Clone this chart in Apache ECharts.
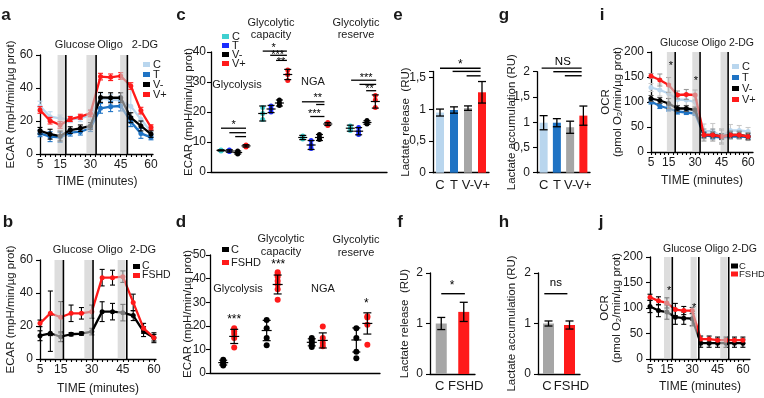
<!DOCTYPE html>
<html>
<head>
<meta charset="utf-8">
<title>ECAR / OCR / lactate panels</title>
<script src="https://cdn.jsdelivr.net/npm/echarts@6/dist/echarts.min.js"></script>
</head>
<body style="margin:0;background:#fff">
<div id="main" style="width:764px;height:398px;"></div>
<script type="text/javascript">

// ---------- data ----------
var times = [5, 10, 15, 20, 25, 30, 35, 40, 45, 50, 55, 60];
var timeLabels = [5, 15, 30, 45, 60];

// a: ECAR, C / T / V- / V+
var ecarA_C  = [29, 22.6, 21.6, 21, 21.6, 23.6, 33.5, 33, 32.5, 29, 21, 13.5];
var ecarA_T  = [12.5, 10.5, 10.1, 12.9, 13.5, 15.6, 27.7, 28.7, 29.1, 19.6, 12.5, 10.1];
var ecarA_Vm = [14.1, 12, 10.9, 14.5, 15.6, 17, 34.3, 34.1, 34.1, 22, 17, 12.1];
var ecarA_Vp = [26.7, 20.2, 17.6, 21.2, 22.6, 24.6, 46.9, 46.5, 47.3, 41.2, 26.3, 16.2];
var errA_C  = [3, 3, 2, 2, 2, 3, 3, 3, 3, 12, 4, 2];
var errA_T  = [2, 3, 3, 2, 2, 2, 3, 3, 3, 3, 3, 1.5];
var errA_Vm = [2, 3, 3, 2, 2, 2, 3, 3, 3, 3, 3, 2];
var errA_Vp = [2, 2, 2, 1.5, 1.5, 2, 2, 2, 2, 2, 2, 1.5];

// b: ECAR, C / FSHD
var ecarB_C = [14.1, 15.6, 13.5, 15, 15.4, 16.6, 28.7, 28.7, 28.1, 26.3, 16.6, 12.9];
var ecarB_F = [21.6, 27.7, 25.3, 27.7, 27.7, 28.7, 49.3, 49.3, 49.9, 34.3, 18.6, 12.9];
var errB_C = [3, 11, 3, 1, 1, 2, 6, 5, 5, 3, 3, 2];
var errB_F = [2, 13.5, 9.5, 5, 3.5, 4, 5, 4.5, 3.5, 5, 3, 3];

// i: OCR, C / T / V- / V+
var ocrI_C  = [129, 124, 117, 105, 104, 100, 41, 42, 31, 43, 43, 41];
var ocrI_T  = [101, 92, 87, 81, 79, 77, 34, 31, 29, 31, 31, 30];
var ocrI_Vm = [107, 103, 97, 87, 87, 84, 34, 34, 31, 34, 34, 31];
var ocrI_Vp = [152, 144, 134, 114, 115, 114, 34, 34, 31, 34, 34, 31];
var errI_C  = [8, 12, 20, 12, 12, 12, 15, 15, 12, 12, 10, 8];
var errI_T  = [5, 5, 5, 5, 4, 4, 5, 5, 4, 4, 4, 4];
var errI_Vm = [6, 6, 10, 6, 6, 6, 6, 6, 6, 6, 6, 6];
var errI_Vp = [5, 12, 15, 8, 10, 10, 12, 12, 15, 8, 8, 8];

// j: OCR, C / FSHD
var ocrJ_C = [103, 95, 92, 82, 80, 79, 31, 31, 31, 31, 31, 31];
var ocrJ_F = [121, 114, 110, 97, 95, 95, 39, 39, 37, 37, 37, 37];
var errJ_C = [12, 12, 14, 14, 12, 14, 8, 8, 8, 8, 8, 8];
var errJ_F = [6, 8, 10, 12, 8, 6, 6, 6, 6, 6, 6, 6];

// injection shading [start, end] and injection times (minutes)
var bandA = [[13.7, 17.5], [28, 32.5], [44.7, 48]];
var injA = [17.8, 32.8, 48.3];
var bandB = [[12, 15.9], [26.4, 30.3], [42.5, 46.3]];
var injB = [16.3, 30.6, 46.9];
var bandI = [[14, 18.1], [28.4, 32.2], [44.4, 48.2]];
var injI = [18.7, 32.8, 48.7];
var bandJ = [[13.3, 17.2], [29, 32.7], [46.6, 50.6]];
var injJ = [18.2, 33.9, 51.6];
var starsI = [[16.3, 172, '*'], [30.5, 142, '*']];
var starsJ = [[16.4, 134, '*'], [31.1, 100, '*']];

// c: individual values per group (Glycolysis, capacity, NGA, reserve)
var ptsC_C  = [[7.0, 7.2, 7.3], [17.5, 19.5, 21.5], [11, 11.5, 12], [13.8, 14.5, 15.3]];
var ptsC_T  = [[6.8, 7.0, 7.3], [20, 21, 22], [7.8, 9, 10.5], [12.5, 13.5, 14.8]];
var ptsC_Vm = [[6.0, 6.5, 7.0], [22.2, 23, 24], [10.8, 11.5, 12.5], [16, 16.5, 17.2]];
var ptsC_Vp = [[8.3, 8.7, 9.0], [30.5, 32.5, 34], [15.5, 16, 16.5], [21.5, 24, 25.5]];
var meanC_C  = [7.2, 19.5, 11.5, 14.6];  var sdC_C  = [0.2, 2.5, 0.7, 1.0];
var meanC_T  = [7.0, 21, 9, 13.6];       var sdC_T  = [0.4, 1.2, 1.5, 1.2];
var meanC_Vm = [6.5, 23, 11.5, 16.5];    var sdC_Vm = [0.5, 1.0, 1.0, 0.6];
var meanC_Vp = [8.7, 32.5, 16, 23.5];    var sdC_Vp = [0.4, 1.7, 0.5, 2.2];
// significance bars in c: [x from, x to, y]
var sigC = [[1.2, 4.2, 14.6], [2.2, 4.2, 13.1], [2.9, 4.2, 11.8],
            [6.2, 9.1, 40.3], [7.1, 9.1, 38.9], [7.8, 9.1, 37.2],
            [10.9, 13.6, 23.4], [12.6, 13.6, 22.5], [11.9, 13.6, 18.5],
            [16.8, 19.8, 30.6], [17.8, 19.8, 29.2], [18.6, 19.8, 27.1]];
var starsC = [[2.7, 15.6, '*'], [7.5, 41.5, '*'], [8.0, 39.0, '***'], [8.4, 36.8, '**'],
              [12.8, 24.7, '**'], [12.4, 19.2, '***'], [18.6, 31.5, '***'], [19.0, 27.8, '**']];

// d: individual values, C / FSHD
var ptsD_C = [[3.2, 4, 4.8, 5.6], [11.8, 14.8, 19, 22.5], [11, 12, 13, 14, 14.8], [6.3, 9, 14.8, 19]];
var ptsD_F = [[10.8, 14.8, 16.5, 17.6, 18.5, 19], [31, 35.5, 37.5, 39, 40.8, 42, 42.7], [11.3, 12.7, 14.8, 19.7], [12, 20.4, 23.5, 24]];
var meanD_C = [4.4, 18, 13, 14];   var sdD_C = [1.0, 4.3, 1.5, 5.1];
var meanD_F = [15.5, 37.5, 13.8, 21]; var sdD_F = [3.0, 4.0, 3.2, 4.5];
var starsD = [[2.2, 22.5, '***'], [6.2, 46, '***'], [14.2, 29.5, '*']];

// e-h: lactate
var cats4 = ['C', 'T', 'V-', 'V+'];
var cats2 = ['C', 'FSHD'];
var relE = [0.95, 0.99, 1.02, 1.27];   var relE_err = [0.055, 0.05, 0.035, 0.17];
var accG = [0.99, 0.99, 0.90, 1.13];   var accG_err = [0.14, 0.08, 0.12, 0.19];
var relF = [1.0, 1.23];                var relF_err = [0.12, 0.19];
var accH = [1.0, 0.97];                var accH_err = [0.05, 0.08];
var sigE = [[0, 2.9, 1.65], [0.9, 2.9, 1.6], [1.9, 2.9, 1.53]];
var txtE = [[1.45, 1.70, '*']];
var sigG = [[-0.15, 2.87, 2.07], [0.73, 2.87, 2.0], [1.6, 2.87, 1.92]];
var txtG = [[1.45, 2.19, 'NS']];
var sigF = [[0, 1.05, 1.59]];
var txtF = [[0.48, 1.74, '*']];
var sigH = [[-0.2, 0.9, 1.59]];
var txtH = [[0.35, 1.8, 'ns']];

// ---------- helpers ----------
var FONT = "'Liberation Sans', Arial, sans-serif";
var INK = '#1a1a1a';
var grid = [], xAxis = [], yAxis = [], series = [], legend = [], graphic = [];

function merge(a, b) {
    for (var k in b) {
        if (b[k] && typeof b[k] === 'object' && !Array.isArray(b[k]) && a[k] && typeof a[k] === 'object') merge(a[k], b[k]);
        else a[k] = b[k];
    }
    return a;
}
function axisBase(extra) {
    return merge({
        axisLine: {show: true, onZero: false, lineStyle: {color: '#000', width: 1.3}},
        axisTick: {show: true, length: 4, lineStyle: {color: '#000', width: 1.1}},
        axisLabel: {color: INK, fontSize: 12, fontFamily: FONT, margin: 7},
        splitLine: {show: false},
        nameMoveOverlap: false,
        nameTextStyle: {color: INK, fontSize: 12, fontFamily: FONT}
    }, extra);
}
function addGrid(l, t, w, h) {
    grid.push({left: l, top: t, width: w, height: h, containLabel: false, outerBoundsMode: 'none'});
    return grid.length - 1;
}
function pairs(xs, ys) { return xs.map(function (x, k) { return [x, ys[k]]; }); }
function errRows(xs, ys, es) { return xs.map(function (x, k) { return [x, ys[k] - es[k], ys[k] + es[k]]; }); }
function at(api, x, y) {
    var f = Math.floor(x), t = x - f;
    var p = api.coord([f, y]);
    if (t === 0) return p;
    var q = api.coord([f + 1, y]);
    return [p[0] + (q[0] - p[0]) * t, p[1]];
}
function errBar(rows, cap, color, lw, meanHalf) {
    return function (params, api) {
        var r = rows[params.dataIndex];
        var lo = at(api, r[0], r[1]), hi = at(api, r[0], r[2]);
        var st = {stroke: color, lineWidth: lw};
        var kids = [
            {type: 'line', shape: {x1: lo[0], y1: lo[1], x2: hi[0], y2: hi[1]}, style: st},
            {type: 'line', shape: {x1: lo[0] - cap, y1: lo[1], x2: lo[0] + cap, y2: lo[1]}, style: st},
            {type: 'line', shape: {x1: hi[0] - cap, y1: hi[1], x2: hi[0] + cap, y2: hi[1]}, style: st}
        ];
        if (meanHalf) {
            var m = at(api, r[0], (r[1] + r[2]) / 2);
            kids.push({type: 'line', shape: {x1: m[0] - meanHalf, y1: m[1], x2: m[0] + meanHalf, y2: m[1]}, style: st});
        }
        return {type: 'group', children: kids};
    };
}
function addErr(g, rows, cap, color, lw, z, meanHalf) {
    series.push({type: 'custom', xAxisIndex: g, yAxisIndex: g, silent: true, animation: false, z: z,
        data: rows.map(function (r) { return [r[0], r[2]]; }),
        renderItem: errBar(rows, cap, color, lw, meanHalf)});
}
function addSig(g, rows, lw) {
    series.push({type: 'custom', xAxisIndex: g, yAxisIndex: g, silent: true, animation: false, z: 8, clip: false,
        data: rows.map(function (r) { return [r[0], r[2]]; }),
        renderItem: function (params, api) {
            var r = rows[params.dataIndex];
            var a = at(api, r[0], r[2]), b = at(api, r[1], r[2]);
            return {type: 'line', shape: {x1: a[0], y1: a[1], x2: b[0], y2: b[1]}, style: {stroke: '#000', lineWidth: lw}};
        }});
}
function addText(g, rows, size) {
    series.push({type: 'custom', xAxisIndex: g, yAxisIndex: g, silent: true, animation: false, z: 12, clip: false,
        data: rows.map(function (r) { return [r[0], r[1]]; }),
        renderItem: function (params, api) {
            var r = rows[params.dataIndex];
            var p = at(api, r[0], r[1]);
            return {type: 'text', x: p[0], y: p[1], style: {text: r[2], fill: '#000', fontSize: size, fontFamily: FONT, align: 'center', verticalAlign: 'middle'}};
        }});
}
function addInjections(g, bands, inj) {
    series.push({type: 'custom', xAxisIndex: g, yAxisIndex: g, silent: true, animation: false, z: 10,
        data: bands,
        renderItem: function (params, api) {
            var cs = params.coordSys;
            var b = bands[params.dataIndex];
            var a = api.coord([b[0], 0]), c = api.coord([b[1], 0]);
            return {type: 'rect', shape: {x: a[0], y: cs.y, width: c[0] - a[0], height: cs.height}, style: {fill: 'rgba(200,200,200,0.62)'}};
        }});
    series.push({type: 'custom', xAxisIndex: g, yAxisIndex: g, silent: true, animation: false, z: 11,
        data: inj.map(function (t) { return [t, 0]; }),
        renderItem: function (params, api) {
            var cs = params.coordSys;
            var p = api.coord([inj[params.dataIndex], 0]);
            return {type: 'line', shape: {x1: p[0], y1: cs.y, x2: p[0], y2: cs.y + cs.height}, style: {stroke: '#000', lineWidth: 1.6}};
        }});
}
function addLegend(names, left, top, gap, size, padLeft) {
    legend.push({data: names, left: left, top: top, orient: 'vertical', icon: 'rect', itemWidth: 7, itemHeight: 5,
        itemGap: gap, selectedMode: false, padding: 0,
        formatter: function (n) { return n.split('|')[0]; },
        textStyle: {color: INK, fontSize: size || 11, fontFamily: FONT, lineHeight: 8,
            padding: [0, 0, 0, padLeft == null ? -2 : padLeft]}});
}
function label(x, y, text, size, bold) {
    graphic.push({type: 'text', x: x, y: y, silent: true,
        style: {text: text, fill: INK, font: (bold ? 'bold ' : '') + size + 'px ' + FONT, align: 'center', verticalAlign: 'middle'}});
}

var tickTimes = [];
for (var tt = 5; tt <= 60; tt += 2.5) tickTimes.push(tt);

function timePanel(g, xmax, ymax, yint, yname, yGap, xGap, yMargin) {
    xAxis.push(axisBase({gridIndex: g, type: 'value', min: 5, max: xmax,
        axisTick: {customValues: tickTimes, length: 3},
        axisLabel: {customValues: timeLabels, margin: 5},
        name: 'TIME (minutes)', nameLocation: 'middle', nameGap: xGap}));
    yAxis.push(axisBase({gridIndex: g, type: 'value', min: 0, max: ymax, interval: yint,
        axisLabel: {margin: yMargin},
        name: yname, nameLocation: 'middle', nameGap: yGap, nameTextStyle: {fontSize: 11.5, lineHeight: 12}}));
}
function tsLine(g, name, vals, errs, color, errColor, z) {
    series.push({type: 'line', name: name, xAxisIndex: g, yAxisIndex: g, data: pairs(times, vals),
        symbol: 'circle', symbolSize: 5, lineStyle: {color: color, width: 2.3}, itemStyle: {color: color},
        z: z, animation: false, silent: true});
    addErr(g, errRows(times, vals, errs), 2.5, errColor, 1.1, z);
}
function catPanel(g, cats, ymax, yint, yname, yGap, fmt) {
    xAxis.push(axisBase({gridIndex: g, type: 'category', data: cats,
        axisTick: {show: false}, axisLabel: {fontSize: 13, margin: 6, interval: 0}}));
    yAxis.push(axisBase({gridIndex: g, type: 'value', min: 0, max: ymax, interval: yint,
        axisLabel: {formatter: fmt},
        name: yname, nameLocation: 'middle', nameGap: yGap, nameTextStyle: {fontSize: 11.5}}));
}
function commaFmt(limit) {
    return function (v) { return v > limit + 1e-9 ? '' : String(v).replace('.', ','); };
}
function addBars(g, vals, errs, colors, width) {
    series.push({type: 'bar', xAxisIndex: g, yAxisIndex: g, barWidth: width, silent: true, animation: false,
        data: vals.map(function (v, k) { return {value: v, itemStyle: {color: colors[k]}}; })});
    addErr(g, vals.map(function (v, k) { return [k, v - errs[k], v + errs[k]]; }), 4, '#000', 1.3, 5);
}
function dotPanel(g, ymax, yint, xmax, yGap, yMargin) {
    xAxis.push(axisBase({gridIndex: g, type: 'value', min: 0, max: xmax,
        axisTick: {show: false}, axisLabel: {show: false}}));
    yAxis.push(axisBase({gridIndex: g, type: 'value', min: 0, max: ymax, interval: yint,
        axisLabel: {margin: yMargin},
        name: 'ECAR (mpH/min/µg prot)', nameLocation: 'middle', nameGap: yGap, nameTextStyle: {fontSize: 11.5}}));
}
function dots(g, name, pts, means, sds, base, slot, color, size, cap) {
    var data = [], rows = [];
    pts.forEach(function (grp, k) {
        var x = base[k] + slot;
        grp.forEach(function (v) { data.push([x, v]); });
        rows.push([x, means[k] - sds[k], means[k] + sds[k]]);
    });
    series.push({type: 'scatter', name: name, xAxisIndex: g, yAxisIndex: g, data: data,
        symbol: 'circle', symbolSize: size, itemStyle: {color: color, opacity: 1}, z: 3, animation: false, silent: true});
    addErr(g, rows, cap, '#000', 1.2, 4, cap + 1);
}

// ---------- colours ----------
var cLight = '#b9d6ee', cBlue = '#1f73c4', cRed = '#ff1a1a', cGrey = '#a6a6a6';

// ---------- panel a ----------
var gA = addGrid(40, 55, 113, 99);
timePanel(gA, 61, 60, 20, 'ECAR (mpH/min/µg prot)', 23, 22, 7);
tsLine(gA, 'C|a', ecarA_C, errA_C, cLight, cLight, 2);
tsLine(gA, 'T|a', ecarA_T, errA_T, cBlue, cBlue, 3);
tsLine(gA, 'V-|a', ecarA_Vm, errA_Vm, '#000', '#000', 4);
tsLine(gA, 'V+|a', ecarA_Vp, errA_Vp, cRed, cRed, 5);
addInjections(gA, bandA, injA);
addLegend(['C|a', 'T|a', 'V-|a', 'V+|a'], 143, 59, -1);

// ---------- panel b ----------
var gB = addGrid(40, 260, 116, 99);
timePanel(gB, 61, 60, 20, 'ECAR (mpH/min/µg prot)', 23, 24, 7);
tsLine(gB, 'C|b', ecarB_C, errB_C, '#000', '#000', 3);
tsLine(gB, 'FSHD|b', ecarB_F, errB_F, cRed, '#000', 4);
addInjections(gB, bandB, injB);
addLegend(['C|b', 'FSHD|b'], 133, 261, -2, 10.5, -3);

// ---------- panel c ----------
var gC = addGrid(211, 52, 176, 120);
var baseC = [1.2, 6.2, 11, 16.7];
dotPanel(gC, 40, 10, 21.1, 16, 5);
dots(gC, 'C|c', ptsC_C, meanC_C, sdC_C, baseC, 0, '#3fd0d0', 5, 3.5);
dots(gC, 'T|c', ptsC_T, meanC_T, sdC_T, baseC, 1, '#1a2cff', 5, 3.5);
dots(gC, 'V-|c', ptsC_Vm, meanC_Vm, sdC_Vm, baseC, 2, '#000', 5, 3.5);
dots(gC, 'V+|c', ptsC_Vp, meanC_Vp, sdC_Vp, baseC, 3, cRed, 5, 3.5);
addSig(gC, sigC, 1.3);
addText(gC, starsC, 11);
addLegend(['C|c', 'T|c', 'V-|c', 'V+|c'], 222, 31, -2);

// ---------- panel d ----------
var gD = addGrid(210, 255, 170, 118);
var baseD = [1.2, 5.15, 9.25, 13.3];
dotPanel(gD, 50, 10, 15.45, 16, 4);
dots(gD, 'C|d', ptsD_C, meanD_C, sdD_C, baseD, 0, '#000', 6, 4);
dots(gD, 'FSHD|d', ptsD_F, meanD_F, sdD_F, baseD, 1, cRed, 6, 4);
addText(gD, starsD, 12);
addLegend(['C|d', 'FSHD|d'], 222, 244, 2, 11, -3);

// ---------- panel e ----------
var gE = addGrid(433, 71.4, 56, 101.3);
catPanel(gE, cats4, 1.6, 0.5, 'Lactate release  (RU)', 21, commaFmt(1.5));
addBars(gE, relE, relE_err, [cLight, cBlue, cGrey, cRed], 8);
addSig(gE, sigE, 1.4);
addText(gE, txtE, 12);

// ---------- panel g ----------
var gG = addGrid(537, 71.7, 53, 101);
catPanel(gG, cats4, 2, 0.5, 'Lactate accumulation (RU)', 19, commaFmt(2));
addBars(gG, accG, accG_err, [cLight, cBlue, cGrey, cRed], 8);
addSig(gG, sigG, 1.4);
addText(gG, txtG, 11.5);

// ---------- panel f ----------
var gF = addGrid(430, 273, 45, 101);
catPanel(gF, cats2, 2, 1, 'Lactate release  (RU)', 19, commaFmt(2));
addBars(gF, relF, relF_err, [cGrey, cRed], 11);
addSig(gF, sigF, 1.4);
addText(gF, txtF, 12);

// ---------- panel h ----------
var gH = addGrid(538, 273, 42, 101);
catPanel(gH, cats2, 2, 1, 'Lactate accumulation (RU)', 20, commaFmt(2));
addBars(gH, accH, accH_err, [cGrey, cRed], 11);
addSig(gH, sigH, 1.4);
addText(gH, txtH, 11.5);

// spread the two-category labels apart like the original
[xAxis[gF], xAxis[gH]].forEach(function (ax) {
    ax.data = [{value: 'C', textStyle: {padding: [0, 3, 0, 0]}}, {value: 'FSHD', textStyle: {padding: [0, 0, 0, 4]}}];
});

// ---------- panel i ----------
var gI = addGrid(651, 52, 102, 100);
timePanel(gI, 62.8, 200, 50, 'OCR\n(pmol O₂/min/µg prot)', 27, 23, 7);
tsLine(gI, 'C|i', ocrI_C, errI_C, cLight, '#c9c9c9', 2);
tsLine(gI, 'T|i', ocrI_T, errI_T, cBlue, cBlue, 3);
tsLine(gI, 'V-|i', ocrI_Vm, errI_Vm, '#000', '#555', 4);
tsLine(gI, 'V+|i', ocrI_Vp, errI_Vp, cRed, '#999', 5);
addInjections(gI, bandI, injI);
addText(gI, starsI, 11);
addLegend(['C|i', 'T|i', 'V-|i', 'V+|i'], 732, 61, 0);

// ---------- panel j ----------
var gJ = addGrid(650, 257, 100, 102);
timePanel(gJ, 64.2, 200, 50, 'OCR\n(pmol O₂/min/µg prot)', 27, 22, 7);
tsLine(gJ, 'C|j', ocrJ_C, errJ_C, '#000', '#000', 3);
tsLine(gJ, 'FSHD|j', ocrJ_F, errJ_F, cRed, '#000', 4);
addInjections(gJ, bandJ, injJ);
addText(gJ, starsJ, 11);
addLegend(['C|j', 'FSHD|j'], 731, 261, -2, 9.5, -4);

// ---------- text ----------
label(6, 15, 'a', 17, true);   label(8, 222, 'b', 17, true);
label(181, 15, 'c', 17, true); label(181, 222, 'd', 17, true);
label(398, 15, 'e', 17, true); label(400, 222, 'f', 17, true);
label(504, 15, 'g', 17, true); label(504, 222, 'h', 17, true);
label(602, 15, 'i', 17, true); label(601, 222, 'j', 17, true);

label(75, 45, 'Glucose', 11); label(110, 45, 'Oligo', 11); label(145, 45, '2-DG', 11);
label(73, 250, 'Glucose', 11); label(110, 250, 'Oligo', 11); label(143, 250, '2-DG', 11);
label(707, 43, 'Glucose Oligo 2-DG', 10.5);
label(710, 249, 'Glucose Oligo 2-DG', 10.5);

label(237, 85, 'Glycolysis', 11); label(271, 23, 'Glycolytic', 11); label(271, 35, 'capacity', 11);
label(313, 82, 'NGA', 11); label(356, 23, 'Glycolytic', 11); label(356, 35, 'reserve', 11);
label(238, 289, 'Glycolysis', 11); label(281, 239, 'Glycolytic', 11); label(281, 252, 'capacity', 11);
label(323, 289, 'NGA', 11); label(356, 240, 'Glycolytic', 11); label(356, 253, 'reserve', 11);

var myChart = echarts.init(document.getElementById('main'));
myChart.setOption({
    animation: false,
    backgroundColor: '#fff',
    textStyle: {fontFamily: FONT},
    grid: grid,
    xAxis: xAxis,
    yAxis: yAxis,
    legend: legend,
    series: series,
    graphic: graphic
});
</script>
</body>
</html>
